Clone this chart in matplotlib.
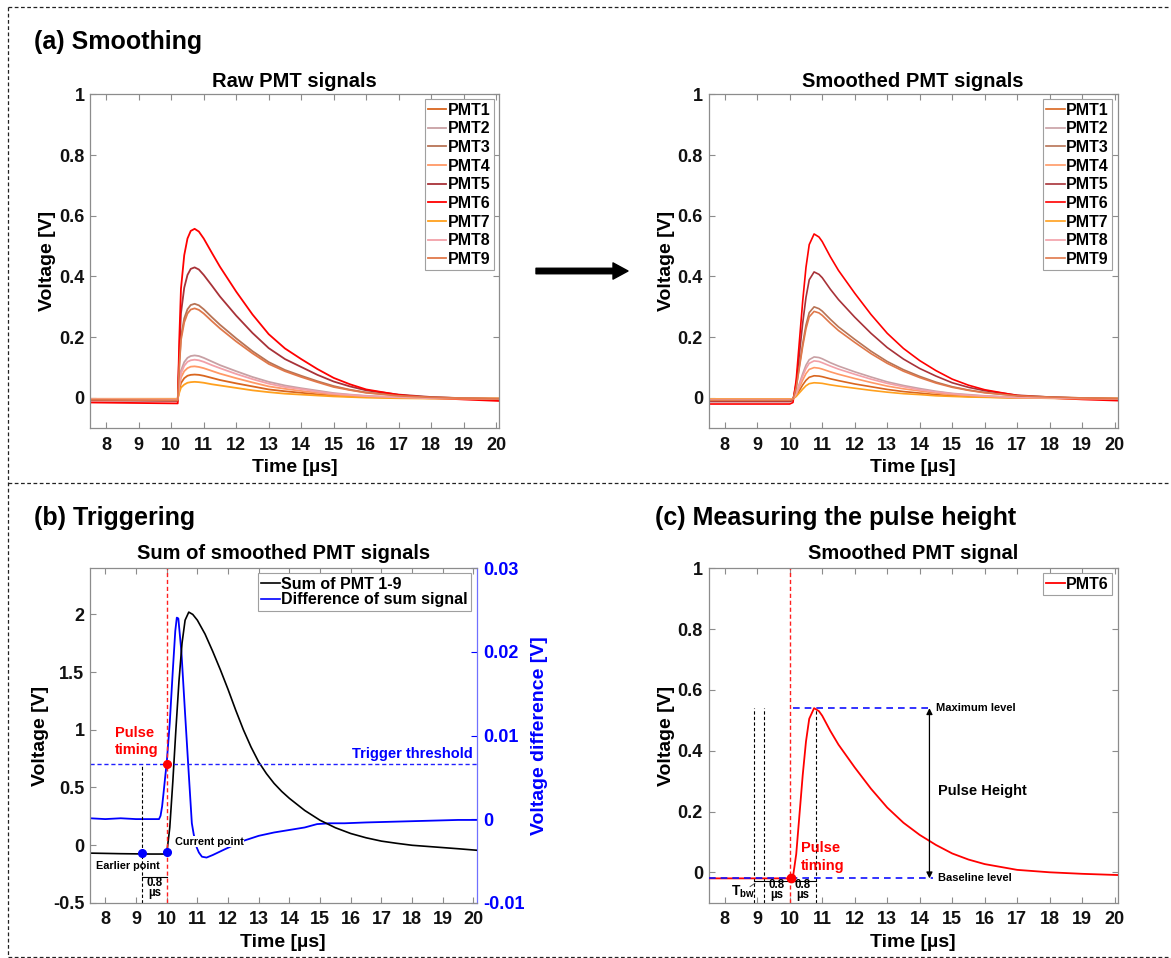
import matplotlib.pyplot as plt
from matplotlib.lines import Line2D
from matplotlib.patches import FancyArrowPatch
from matplotlib.ticker import FuncFormatter

plt.rcParams['font.family'] = ['Liberation Sans', 'DejaVu Sans']
plt.rcParams['font.weight'] = 'bold'
plt.rcParams['axes.titleweight'] = 'bold'
plt.rcParams['axes.labelweight'] = 'bold'
plt.rcParams['mathtext.fontset'] = 'custom'
plt.rcParams['mathtext.bf'] = 'Liberation Sans:bold'
plt.rcParams['mathtext.rm'] = 'Liberation Sans'

W, H = 1171, 958

# ---- raw PMT waveforms [V] ----
t_raw = [7.5, 10.2, 10.25, 10.3, 10.4, 10.5, 10.6, 10.72, 10.85, 11.0, 11.25, 11.5,
         12.0, 12.5, 13.0, 13.5, 14.0, 14.5, 15.0, 15.5, 16.0, 17.0, 18.0, 19.0, 20.1]
raw_pmt1 = [-0.003, -0.003, 0.027, 0.049, 0.065, 0.073, 0.076, 0.077, 0.076, 0.073, 0.066, 0.059, 0.048,
            0.038, 0.028, 0.022, 0.017, 0.012, 0.008, 0.005, 0.003, 0.001, -0.001, -0.002, -0.002]
raw_pmt2 = [-0.004, -0.005, 0.050, 0.090, 0.118, 0.132, 0.138, 0.140, 0.138, 0.132, 0.120, 0.108, 0.088,
            0.069, 0.053, 0.041, 0.032, 0.024, 0.016, 0.011, 0.007, 0.002, 0.000, -0.002, -0.003]
raw_pmt3 = [-0.006, -0.008, 0.113, 0.201, 0.262, 0.292, 0.306, 0.310, 0.305, 0.292, 0.266, 0.241, 0.196,
            0.154, 0.118, 0.092, 0.073, 0.055, 0.039, 0.027, 0.018, 0.008, 0.002, -0.001, -0.003]
raw_pmt4 = [-0.004, -0.005, 0.037, 0.067, 0.088, 0.098, 0.103, 0.104, 0.102, 0.098, 0.089, 0.080, 0.065,
            0.051, 0.038, 0.030, 0.023, 0.017, 0.011, 0.007, 0.004, 0.001, -0.001, -0.002, -0.003]
raw_pmt5 = [-0.008, -0.010, 0.157, 0.279, 0.363, 0.405, 0.425, 0.430, 0.423, 0.405, 0.370, 0.334, 0.271,
            0.214, 0.164, 0.128, 0.102, 0.076, 0.054, 0.038, 0.025, 0.011, 0.003, -0.001, -0.004]
raw_pmt6 = [-0.015, -0.018, 0.200, 0.360, 0.470, 0.525, 0.550, 0.557, 0.548, 0.525, 0.478, 0.432, 0.350,
            0.275, 0.210, 0.163, 0.128, 0.095, 0.066, 0.045, 0.028, 0.010, 0.000, -0.005, -0.010]
raw_pmt7 = [-0.003, -0.003, 0.018, 0.034, 0.044, 0.050, 0.052, 0.053, 0.052, 0.050, 0.045, 0.041, 0.033,
            0.025, 0.019, 0.014, 0.011, 0.008, 0.005, 0.003, 0.001, -0.001, -0.002, -0.002, -0.002]
raw_pmt8 = [-0.004, -0.005, 0.045, 0.081, 0.106, 0.119, 0.124, 0.126, 0.124, 0.119, 0.108, 0.098, 0.079,
            0.062, 0.047, 0.036, 0.029, 0.021, 0.014, 0.010, 0.006, 0.002, -0.001, -0.002, -0.003]
raw_pmt9 = [-0.006, -0.008, 0.107, 0.191, 0.249, 0.278, 0.291, 0.295, 0.290, 0.278, 0.253, 0.229, 0.186,
            0.147, 0.112, 0.088, 0.069, 0.052, 0.036, 0.026, 0.017, 0.007, 0.002, -0.001, -0.003]

# ---- smoothed PMT waveforms [V] ----
t_smooth = [7.5, 10.0, 10.1, 10.2, 10.3, 10.4, 10.5, 10.6, 10.75, 10.9, 11.0, 11.25, 11.5,
            12.0, 12.5, 13.0, 13.5, 14.0, 14.5, 15.0, 15.5, 16.0, 17.0, 18.0, 19.0, 20.1]
sm_pmt1 = [-0.004, -0.004, -0.003, 0.007, 0.025, 0.043, 0.058, 0.068, 0.073, 0.072, 0.070, 0.063, 0.057,
           0.046, 0.037, 0.028, 0.021, 0.016, 0.011, 0.007, 0.005, 0.003, 0.000, -0.001, -0.002, -0.003]
sm_pmt2 = [-0.005, -0.005, -0.004, 0.015, 0.048, 0.080, 0.108, 0.126, 0.135, 0.133, 0.129, 0.116, 0.105,
           0.086, 0.069, 0.053, 0.041, 0.031, 0.022, 0.015, 0.011, 0.007, 0.002, 0.000, -0.001, -0.002]
sm_pmt3 = [-0.008, -0.008, -0.005, 0.036, 0.108, 0.179, 0.240, 0.281, 0.300, 0.294, 0.286, 0.259, 0.234,
           0.193, 0.154, 0.120, 0.093, 0.071, 0.052, 0.037, 0.026, 0.018, 0.007, 0.003, 0.000, -0.002]
sm_pmt4 = [-0.004, -0.004, -0.003, 0.011, 0.035, 0.059, 0.080, 0.094, 0.100, 0.098, 0.095, 0.086, 0.078,
           0.064, 0.051, 0.039, 0.030, 0.023, 0.016, 0.011, 0.008, 0.005, 0.001, 0.000, -0.001, -0.002]
sm_pmt5 = [-0.012, -0.012, -0.008, 0.049, 0.148, 0.247, 0.331, 0.389, 0.415, 0.407, 0.396, 0.358, 0.324,
           0.266, 0.213, 0.166, 0.128, 0.097, 0.072, 0.050, 0.035, 0.024, 0.009, 0.003, -0.001, -0.003]
sm_pmt6 = [-0.020, -0.020, -0.015, 0.060, 0.190, 0.320, 0.430, 0.505, 0.540, 0.530, 0.515, 0.465, 0.420,
           0.345, 0.275, 0.213, 0.163, 0.123, 0.090, 0.062, 0.042, 0.027, 0.008, 0.000, -0.005, -0.009]
sm_pmt7 = [-0.003, -0.003, -0.003, 0.005, 0.017, 0.029, 0.040, 0.047, 0.050, 0.049, 0.048, 0.043, 0.039,
           0.032, 0.025, 0.019, 0.014, 0.011, 0.007, 0.005, 0.003, 0.002, 0.000, -0.001, -0.002, -0.002]
sm_pmt8 = [-0.005, -0.005, -0.004, 0.013, 0.043, 0.072, 0.097, 0.114, 0.122, 0.120, 0.116, 0.105, 0.095,
           0.078, 0.062, 0.048, 0.037, 0.027, 0.020, 0.014, 0.009, 0.006, 0.001, 0.000, -0.002, -0.003]
sm_pmt9 = [-0.008, -0.008, -0.005, 0.034, 0.102, 0.170, 0.228, 0.267, 0.285, 0.280, 0.272, 0.246, 0.222,
           0.183, 0.146, 0.114, 0.088, 0.067, 0.049, 0.035, 0.025, 0.017, 0.007, 0.003, 0.000, -0.002]

pmt_names = ['PMT1', 'PMT2', 'PMT3', 'PMT4', 'PMT5', 'PMT6', 'PMT7', 'PMT8', 'PMT9']
pmt_colors = ['#D9661F', '#C8A0A4', '#B87355', '#FF9966', '#A83238',
              '#FF0000', '#FFA01E', '#F2A0A8', '#E0784A']
raw_signals = [raw_pmt1, raw_pmt2, raw_pmt3, raw_pmt4, raw_pmt5, raw_pmt6, raw_pmt7, raw_pmt8, raw_pmt9]
smooth_signals = [sm_pmt1, sm_pmt2, sm_pmt3, sm_pmt4, sm_pmt5, sm_pmt6, sm_pmt7, sm_pmt8, sm_pmt9]

# ---- sum of smoothed signals and its difference ----
t_sum = [7.5, 8.5, 9.5, 10.0, 10.1, 10.2, 10.3, 10.4, 10.5, 10.6, 10.72, 10.85, 11.0, 11.25, 11.5,
         11.75, 12.0, 12.25, 12.5, 12.75, 13.0, 13.25, 13.5, 13.75, 14.0, 14.5, 15.0, 15.5, 16.0,
         16.5, 17.0, 17.5, 18.0, 18.5, 19.0, 19.5, 20.1]
v_sum = [-0.07, -0.075, -0.078, -0.078, 0.15, 0.55, 1.00, 1.42, 1.75, 1.95, 2.02, 2.00, 1.95, 1.83, 1.68,
         1.52, 1.35, 1.17, 1.00, 0.85, 0.72, 0.62, 0.535, 0.465, 0.405, 0.30, 0.215, 0.15, 0.10,
         0.063, 0.034, 0.015, -0.002, -0.012, -0.022, -0.032, -0.045]
t_diff = [7.5, 8.0, 8.5, 9.0, 9.5, 9.75, 9.8, 9.85, 9.9, 9.95, 10.0, 10.1, 10.2, 10.28, 10.33, 10.38,
          10.48, 10.6, 10.72, 10.82, 10.88, 10.98, 11.05, 11.15, 11.3, 11.5, 11.9, 12.5, 13.0, 13.5,
          14.0, 14.5, 14.9, 15.3, 15.8, 16.5, 17.5, 18.5, 19.5, 20.1]
v_diff = [0.0001, 0.0, 0.0001, 0.0, 0.0, 0.0, 0.0004, 0.0015, 0.0032, 0.005, 0.0067, 0.0115, 0.0178,
          0.0225, 0.0241, 0.0240, 0.0200, 0.0126, 0.0054, -0.0005, -0.0018, -0.0034, -0.0040, -0.0045,
          -0.0046, -0.0043, -0.0036, -0.0026, -0.0020, -0.0016, -0.0013, -0.0010, -0.0006, -0.0005,
          -0.0005, -0.0004, -0.0003, -0.0002, -0.0001, -0.0001]

# trigger settings
threshold = 0.7
pulse_time = 10.0
window = 0.8
earlier_v = -0.07
current_v = -0.062

# pulse height window
t_bw_start = 8.9
pulse_c = 10.0
baseline_level = sm_pmt6[0]
max_level = max(sm_pmt6)
height_x = 14.3

SPINE = '#8c8c8c'


def px_box(left, top, right, bottom):
    return [left / W, 1 - bottom / H, (right - left) / W, (bottom - top) / H]


def style_axes(ax, yticks, ylim, right=True):
    ax.set_xlim(7.5, 20.1)
    ax.set_ylim(*ylim)
    ax.set_xticks(range(8, 21))
    ax.set_yticks(yticks)
    ax.yaxis.set_major_formatter(FuncFormatter(lambda v, _: f'{v:g}'))
    ax.tick_params(direction='in', length=4, width=0.8, color=SPINE, labelsize=13,
                   labelcolor='#111111', top=True, right=right)
    ax.tick_params(axis='x', pad=6)
    ax.tick_params(axis='y', pad=4)
    for s in ax.spines.values():
        s.set_color(SPINE)
        s.set_linewidth(0.9)


def add_legend(ax, handles=None, **kw):
    leg = ax.legend(handles=handles, loc='upper right', bbox_to_anchor=(0.986, 0.985),
                    borderaxespad=0, fancybox=False, framealpha=1, edgecolor='#a0a0a0',
                    handlelength=1.15, handletextpad=0.1, borderpad=0.2, **kw)
    leg.get_frame().set_linewidth(0.8)
    return leg


fig = plt.figure(figsize=(W / 100, H / 100), dpi=100)

# ---------- (a) raw signals ----------
ax_raw = fig.add_axes(px_box(90, 94.3, 499.4, 428.3))
for sig, name, col in zip(raw_signals, pmt_names, pmt_colors):
    ax_raw.plot(t_raw, sig, color=col, lw=1.3, label=name)
style_axes(ax_raw, [0, 0.2, 0.4, 0.6, 0.8, 1], (-0.1, 1))
ax_raw.set_title('Raw PMT signals', fontsize=14.5, pad=5)
add_legend(ax_raw, fontsize=11.5, labelspacing=0.23)

# ---------- (a) smoothed signals ----------
ax_sm = fig.add_axes(px_box(708.5, 94.3, 1117.9, 428.3))
for sig, name, col in zip(smooth_signals, pmt_names, pmt_colors):
    ax_sm.plot(t_smooth, sig, color=col, lw=1.2, label=name)
style_axes(ax_sm, [0, 0.2, 0.4, 0.6, 0.8, 1], (-0.1, 1))
ax_sm.set_title('Smoothed PMT signals', fontsize=14.5, pad=5)
add_legend(ax_sm, fontsize=11.5, labelspacing=0.23)

for ax, lx in [(ax_raw, -0.105), (ax_sm, -0.102)]:
    ax.set_ylabel('Voltage [V]', fontsize=14, va='center')
    ax.yaxis.set_label_coords(lx, 0.5)
    ax.set_xlabel('Time [µs]', fontsize=14, va='center')
    ax.xaxis.set_label_coords(0.5, -0.117)

# ---------- (b) triggering ----------
ax_b = fig.add_axes(px_box(90, 568.3, 476.5, 902.7))
ax_b2 = ax_b.twinx()
ax_b.set_zorder(ax_b2.get_zorder() + 1)
ax_b.patch.set_visible(False)

ax_b2.plot(t_diff, v_diff, color='#0000FF', lw=1.3)
ax_b.plot(t_sum, v_sum, color='black', lw=1.2)
style_axes(ax_b, [-0.5, 0, 0.5, 1, 1.5, 2], (-0.5, 2.4), right=False)
ax_b.spines['right'].set_visible(False)

ax_b2.set_ylim(-0.01, 0.03)
ax_b2.set_yticks([-0.01, 0, 0.01, 0.02, 0.03])
ax_b2.yaxis.set_major_formatter(FuncFormatter(lambda v, _: f'{v:g}'))
ax_b2.tick_params(axis='y', direction='in', length=4, width=0.8, colors='#0000FF',
                  labelsize=13, pad=5)
for side in ['left', 'top', 'bottom']:
    ax_b2.spines[side].set_visible(False)
ax_b2.spines['right'].set_color('#7070FF')
ax_b2.spines['right'].set_linewidth(0.9)
ax_b2.set_ylabel('Voltage difference [V]', fontsize=14, color='#0000FF', va='center')
ax_b2.yaxis.set_label_coords(1.163, 0.5)

ax_b.set_title('Sum of smoothed PMT signals', fontsize=14.5, pad=6.5)
ax_b.set_ylabel('Voltage [V]', fontsize=14, va='center')
ax_b.yaxis.set_label_coords(-0.127, 0.5)
ax_b.set_xlabel('Time [µs]', fontsize=14, va='center')
ax_b.xaxis.set_label_coords(0.5, -0.12)

ax_b.axhline(threshold, color='#2020FF', ls=(0, (3, 2)), lw=1)
ax_b.axvline(pulse_time, color='#FF2020', ls=(0, (3, 2)), lw=1)
ax_b.plot([pulse_time - window] * 2, [-0.5, threshold], color='black', ls=(0, (3, 2)), lw=0.8)
ax_b.plot([pulse_time - window, pulse_time], [-0.275, -0.275], color='black', lw=0.8)
ax_b.plot([pulse_time - window, pulse_time], [earlier_v, current_v], 'o', color='#0000FF', ms=5.5)
ax_b.plot(pulse_time, threshold, 'o', color='#FF0000', ms=5.5)
ax_b.text(8.3, 0.97, 'Pulse', color='#FF0000', fontsize=10.5, va='center', ha='left')
ax_b.text(8.3, 0.82, 'timing', color='#FF0000', fontsize=10.5, va='center', ha='left')
ax_b.text(19.97, 0.79, 'Trigger threshold', color='#0000FF', fontsize=10.5, va='center', ha='right')
ax_b.text(10.27, 0.03, 'Current point', fontsize=7.8, va='center', ha='left',
          bbox=dict(facecolor='white', edgecolor='none', pad=0.5))
ax_b.text(8.75, -0.18, 'Earlier point', fontsize=7.8, va='center', ha='center')
ax_b.text(pulse_time - window / 2, -0.37, '0.8\nµs', fontsize=8.3, va='center', ha='center',
          linespacing=0.75)

add_legend(ax_b, handles=[Line2D([], [], color='black', lw=1.2, label='Sum of PMT 1-9'),
                          Line2D([], [], color='#0000FF', lw=1.2, label='Difference of sum signal')],
           fontsize=11.5, labelspacing=0.05)

# ---------- (c) pulse height ----------
ax_c = fig.add_axes(px_box(708.5, 568.3, 1117.9, 902.7))
ax_c.plot(t_smooth, sm_pmt6, color='#FF0000', lw=1.3, label='PMT6', zorder=3)
style_axes(ax_c, [0, 0.2, 0.4, 0.6, 0.8, 1], (-0.1, 1))
ax_c.set_title('Smoothed PMT signal', fontsize=14.5, pad=6.5)
ax_c.set_ylabel('Voltage [V]', fontsize=14, va='center')
ax_c.yaxis.set_label_coords(-0.102, 0.5)
ax_c.set_xlabel('Time [µs]', fontsize=14, va='center')
ax_c.xaxis.set_label_coords(0.5, -0.12)

ax_c.axvline(pulse_c, color='#FF2020', ls=(0, (3, 2)), lw=1)
ax_c.plot([7.5, height_x + 0.1], [baseline_level] * 2, color='#1010FF', ls=(0, (4, 3)), lw=1.2, zorder=4)
ax_c.plot([pulse_c + 0.1, height_x + 0.1], [max_level] * 2, color='#1010FF', ls=(0, (4, 3)), lw=1.2)
for tv in [t_bw_start, pulse_c - window]:
    ax_c.plot([tv, tv], [-0.1, max_level], color='black', ls=(0, (3, 2)), lw=0.8)
ax_c.plot([pulse_c + window] * 2, [-0.1, max_level - 0.005], color='black', ls=(0, (3, 2)), lw=0.8)
ax_c.plot([t_bw_start, pulse_c + window], [-0.027, -0.027], color='black', lw=0.8)
ax_c.plot(pulse_c + 0.03, baseline_level, 'o', color='#FF0000', ms=6, zorder=5)
ax_c.annotate('', xy=(height_x, max_level), xytext=(height_x, baseline_level),
              arrowprops=dict(arrowstyle='<|-|>', color='black', lw=0.9, mutation_scale=9,
                              shrinkA=0, shrinkB=0))
ax_c.text(height_x + 0.2, max_level, 'Maximum level', fontsize=8, va='center', ha='left')
ax_c.text(height_x + 0.25, baseline_level, 'Baseline level', fontsize=8, va='center', ha='left')
ax_c.text(height_x + 0.25, 0.267, 'Pulse Height', fontsize=10.5, va='center', ha='left')
ax_c.text(10.34, 0.079, 'Pulse', color='#FF0000', fontsize=10.5, va='center', ha='left')
ax_c.text(10.34, 0.022, 'timing', color='#FF0000', fontsize=10.5, va='center', ha='left')
for cx in [pulse_c - window / 2, pulse_c + window / 2]:
    ax_c.text(cx, -0.058, '0.8\nµs', fontsize=8.3, va='center', ha='center', linespacing=0.75)
ax_c.text(8.55, -0.065, r'$\mathbf{T}_{\mathbf{bw}}$', fontsize=10, va='center', ha='center')
ax_c.plot([8.78, 8.93], [-0.047, -0.036], color='#555555', lw=0.7)
add_legend(ax_c, fontsize=11.5, labelspacing=0.02)

# ---------- panel headings, frame and arrow ----------
fig.text(33.7 / W, 1 - 48.5 / H, '(a) Smoothing', fontsize=18, va='baseline', ha='left')
fig.text(33.7 / W, 1 - 525 / H, '(b) Triggering', fontsize=18, va='baseline', ha='left')
fig.text(655 / W, 1 - 525 / H, '(c) Measuring the pulse height', fontsize=18, va='baseline', ha='left')


def fig_line(x0, y0, x1, y1):
    fig.add_artist(Line2D([x0 / W, x1 / W], [1 - y0 / H, 1 - y1 / H], transform=fig.transFigure,
                          color='#222222', lw=0.9, ls=(0, (3, 2))))


fig_line(8.4, 6.7, W, 6.7)
fig_line(8.4, 956.5, W, 956.5)
fig_line(8.4, 483.3, W, 483.3)
fig_line(8.4, 6.7, 8.4, 956.5)

fig.add_artist(FancyArrowPatch((536 / W, 1 - 271 / H), (628 / W, 1 - 271 / H),
                               transform=fig.transFigure, shrinkA=0, shrinkB=0,
                               arrowstyle='simple,head_width=0.65,head_length=0.6,tail_width=0.22',
                               mutation_scale=18, color='black'))

fig.savefig('out.png', dpi=100)
